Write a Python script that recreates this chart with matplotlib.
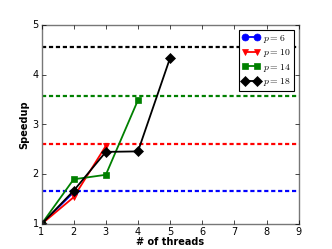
import matplotlib
matplotlib.use('Agg')
import matplotlib.pyplot as plt

plt.style.use('classic')
plt.rcParams['mathtext.fontset'] = 'cm'

# data
threads_6 = [1, 2]
speedup_6 = [1.0, 1.64]
threads_10 = [1, 2, 3]
speedup_10 = [1.0, 1.54, 2.57]
threads_14 = [1, 2, 3, 4]
speedup_14 = [1.0, 1.90, 1.99, 3.49]
threads_18 = [1, 2, 3, 4, 5]
speedup_18 = [1.0, 1.67, 2.45, 2.46, 4.34]

# limit lines for each p
limits = [1.67, 2.60, 3.57, 4.56]
colors = ['b', 'r', 'g', 'k']

fig = plt.figure(figsize=(3.32, 2.49), dpi=100)
ax = fig.add_axes([0.125, 0.1, 0.775, 0.8])

for lim, c in zip(limits, colors):
    ax.axhline(lim, color=c, linestyle='--', linewidth=1.6, dashes=(3, 2))

ax.plot(threads_6, speedup_6, 'b-o', lw=1.3, ms=5, mec='b', label=r'$p=6$')
ax.plot(threads_10, speedup_10, 'r-v', lw=1.3, ms=5, mec='r', label=r'$p=10$')
ax.plot(threads_14, speedup_14, 'g-s', lw=1.3, ms=5, mec='g', label=r'$p=14$')
ax.plot(threads_18, speedup_18, 'k-D', lw=1.3, ms=5, mec='k', label=r'$p=18$')

ax.set_xlim(1, 9)
ax.set_ylim(1, 5)
ax.set_xticks(range(1, 10))
ax.set_yticks(range(1, 6))
ax.tick_params(labelsize=7, length=3, pad=2)
for s in ax.spines.values():
    s.set_color('#777777')
ax.set_xlabel('# of threads', fontsize=7, fontweight='bold', labelpad=0)
ax.set_ylabel('Speedup', fontsize=7, fontweight='bold', labelpad=2)

leg = ax.legend(loc='upper right', fontsize=7, numpoints=2, handlelength=1.8,
                borderpad=0.3, labelspacing=0.25, handletextpad=0.4,
                borderaxespad=0.5, fancybox=False)
leg.get_frame().set_linewidth(0.8)

fig.savefig('out.png', dpi=100)
